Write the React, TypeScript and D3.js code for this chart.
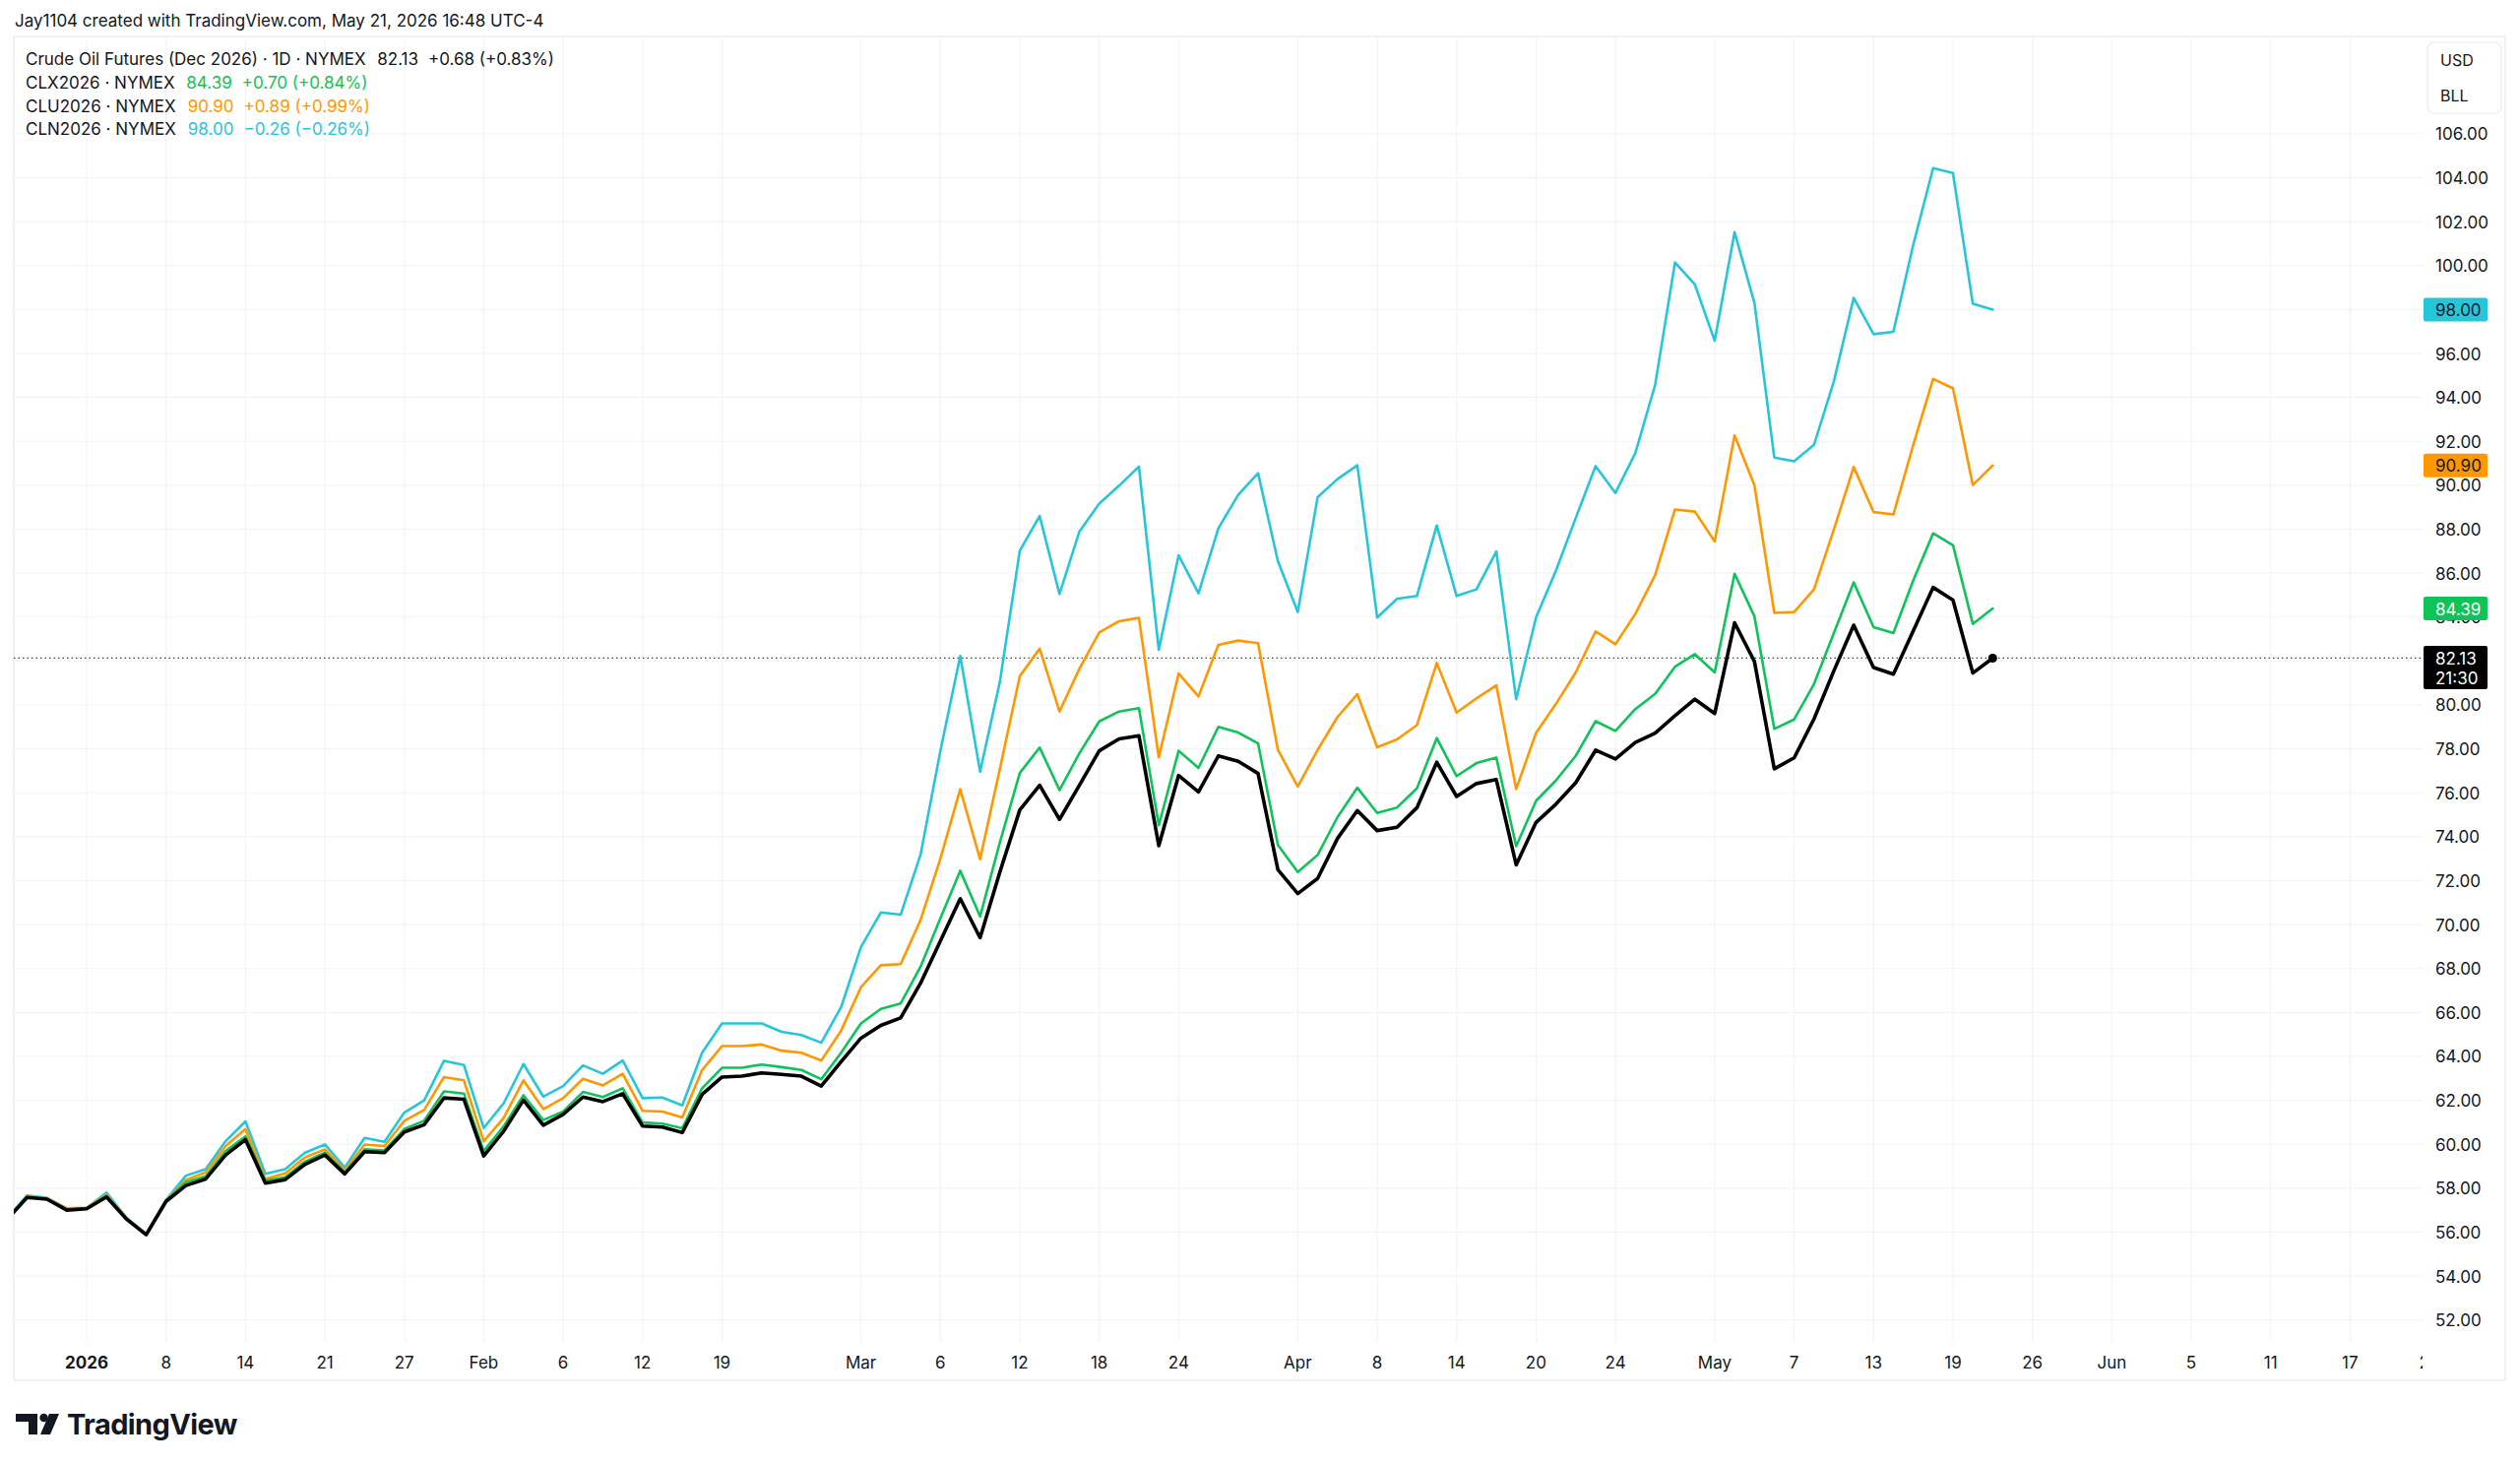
import React from "react";
import * as d3 from "d3";

// ---------- DATA ----------
const dates = [
  "2025-12-26","2025-12-29","2025-12-30","2025-12-31",
  "2026-01-02","2026-01-05","2026-01-06","2026-01-07","2026-01-08","2026-01-09","2026-01-12","2026-01-13","2026-01-14","2026-01-15","2026-01-16","2026-01-20","2026-01-21","2026-01-22","2026-01-23","2026-01-26","2026-01-27","2026-01-28","2026-01-29","2026-01-30",
  "2026-02-02","2026-02-03","2026-02-04","2026-02-05","2026-02-06","2026-02-09","2026-02-10","2026-02-11","2026-02-12","2026-02-13","2026-02-17","2026-02-18","2026-02-19","2026-02-20","2026-02-23","2026-02-24","2026-02-25","2026-02-26","2026-02-27",
  "2026-03-02","2026-03-03","2026-03-04","2026-03-05","2026-03-06","2026-03-09","2026-03-10","2026-03-11","2026-03-12","2026-03-13","2026-03-16","2026-03-17","2026-03-18","2026-03-19","2026-03-20","2026-03-23","2026-03-24","2026-03-25","2026-03-26","2026-03-27","2026-03-30","2026-03-31",
  "2026-04-01","2026-04-02","2026-04-06","2026-04-07","2026-04-08","2026-04-09","2026-04-10","2026-04-13","2026-04-14","2026-04-15","2026-04-16","2026-04-17","2026-04-20","2026-04-21","2026-04-22","2026-04-23","2026-04-24","2026-04-27","2026-04-28","2026-04-29","2026-04-30",
  "2026-05-01","2026-05-04","2026-05-05","2026-05-06","2026-05-07","2026-05-08","2026-05-11","2026-05-12","2026-05-13","2026-05-14","2026-05-15","2026-05-18","2026-05-19","2026-05-20","2026-05-21",
];

// future (empty) trading days on the time scale
const futureDates = [
  "2026-05-22","2026-05-26","2026-05-27","2026-05-28","2026-05-29",
  "2026-06-01","2026-06-02","2026-06-03","2026-06-04","2026-06-05",
  "2026-06-08","2026-06-09","2026-06-10","2026-06-11","2026-06-12",
  "2026-06-15","2026-06-16","2026-06-17","2026-06-18","2026-06-19",
  "2026-06-22","2026-06-23","2026-06-24",
];

// Crude Oil Futures (Dec 2026) - main series
const clz2026 = [
  56.58,57.58,57.50,57.00,
  57.06,57.60,56.60,55.88,57.40,58.12,58.42,59.51,60.21,58.23,58.39,59.09,59.51,58.65,59.66,59.62,60.56,60.89,62.11,62.05,
  59.47,60.59,62.01,60.87,61.36,62.15,61.94,62.30,60.83,60.78,60.53,62.27,63.06,63.10,63.25,63.18,63.10,62.65,63.76,
  64.83,65.41,65.75,67.33,69.25,71.18,69.40,72.40,75.22,76.34,74.79,76.34,77.91,78.45,78.60,73.59,76.79,76.04,77.68,77.43,76.88,72.50,
  71.41,72.10,73.92,75.19,74.28,74.43,75.32,77.39,75.83,76.42,76.60,72.72,74.65,75.48,76.46,77.94,77.54,78.29,78.72,79.51,80.26,
  79.61,83.74,81.98,77.09,77.59,79.36,81.55,83.63,81.70,81.40,83.37,85.35,84.77,81.45,82.13,
];

// CLX2026 (Nov 2026)
const clx2026 = [
  56.60,57.60,57.52,57.03,
  57.08,57.65,56.62,55.90,57.42,58.27,58.54,59.69,60.36,58.35,58.50,59.21,59.62,58.72,59.77,59.72,60.69,61.07,62.41,62.31,
  59.69,60.81,62.23,61.10,61.49,62.38,62.15,62.55,60.99,60.94,60.73,62.55,63.48,63.48,63.63,63.51,63.38,62.96,64.17,
  65.50,66.16,66.41,68.08,70.28,72.45,70.37,73.75,76.90,78.06,76.12,77.80,79.25,79.70,79.85,74.52,77.91,77.13,79.00,78.74,78.25,73.62,
  72.39,73.17,74.89,76.23,75.08,75.33,76.20,78.49,76.76,77.35,77.60,73.57,75.63,76.56,77.68,79.26,78.82,79.81,80.50,81.74,82.31,
  81.48,85.97,84.03,78.91,79.34,80.95,83.27,85.58,83.54,83.27,85.67,87.81,87.27,83.69,84.39,
];

// CLU2026 (Sep 2026)
const clu2026 = [
  56.62,57.62,57.54,57.08,
  57.10,57.70,56.64,55.92,57.44,58.38,58.72,59.92,60.69,58.42,58.68,59.40,59.77,58.82,59.99,59.92,61.07,61.56,63.06,62.91,
  60.14,61.19,62.91,61.60,62.10,62.98,62.68,63.21,61.52,61.49,61.22,63.38,64.47,64.47,64.54,64.26,64.17,63.81,65.17,
  67.15,68.15,68.20,70.20,73.00,76.16,72.98,77.10,81.31,82.56,79.70,81.64,83.30,83.81,83.96,77.61,81.43,80.39,82.73,82.93,82.81,77.95,
  76.28,77.95,79.45,80.49,78.07,78.43,79.08,81.91,79.65,80.30,80.89,76.17,78.72,80.04,81.48,83.35,82.76,84.14,85.91,88.90,88.80,
  87.44,92.27,90.00,84.19,84.23,85.26,87.98,90.83,88.78,88.67,91.84,94.84,94.41,90.01,90.90,
];

// CLN2026 (Jul 2026)
const cln2026 = [
  56.65,57.67,57.56,57.08,
  57.10,57.80,56.66,55.92,57.46,58.57,58.87,60.14,61.04,58.65,58.87,59.62,59.99,58.94,60.29,60.11,61.44,62.00,63.80,63.61,
  60.74,61.86,63.65,62.17,62.65,63.59,63.21,63.81,62.10,62.13,61.77,64.17,65.50,65.50,65.50,65.12,64.97,64.62,66.24,
  68.98,70.55,70.45,73.18,77.90,82.23,76.96,81.07,87.02,88.60,85.05,87.89,89.16,89.98,90.85,82.51,86.81,85.08,88.04,89.56,90.55,86.54,
  84.23,89.46,90.28,90.91,83.98,84.83,84.96,88.17,84.96,85.26,86.99,80.26,83.98,86.11,88.51,90.87,89.65,91.46,94.57,100.14,99.14,
  96.58,101.52,98.30,91.26,91.09,91.84,94.73,98.53,96.88,96.99,100.95,104.44,104.21,98.26,98.00,
];

const priceTicks = [52,54,56,58,60,62,64,66,68,70,72,74,76,78,80,82,84,86,88,90,92,94,96,98,100,102,104,106];

const timeTickDates = [
  "2026-01-02","2026-01-08","2026-01-14","2026-01-21","2026-01-27","2026-02-02","2026-02-06","2026-02-12","2026-02-19",
  "2026-03-02","2026-03-06","2026-03-12","2026-03-18","2026-03-24","2026-04-01","2026-04-08","2026-04-14","2026-04-20","2026-04-24",
  "2026-05-01","2026-05-07","2026-05-13","2026-05-19","2026-05-26","2026-06-01","2026-06-05","2026-06-11","2026-06-17","2026-06-23",
];
const timeTickLabels = [
  "2026","8","14","21","27","Feb","6","12","19",
  "Mar","6","12","18","24","Apr","8","14","20","24",
  "May","7","13","19","26","Jun","5","11","17","23",
];

const seriesNames = ["Crude Oil Futures (Dec 2026) · 1D · NYMEX","CLX2026 · NYMEX","CLU2026 · NYMEX","CLN2026 · NYMEX"];
const seriesChanges = ["+0.68 (+0.83%)","+0.70 (+0.84%)","+0.89 (+0.99%)","\u22120.26 (\u22120.26%)"];
const seriesColors = ["#000000","#0DC35A","#FF9800","#26C6DA"];

// ---------- LAYOUT ----------
const W = 2560, H = 1488;
const frameL = 14, frameT = 37, frameR = 2545, frameB = 1402;
const plotR = 2461, plotB = 1363;
const FONT = "Inter, 'Noto Sans', Roboto, sans-serif";
const TEXT = "#131722";

export default function App() {
  const allDays = dates.concat(futureDates);
  const x = d3.scaleLinear().domain([4, 100]).range([88, 88 + 96 * 20.17]);
  const y = d3.scaleLinear().domain([52, 106]).range([1340.7, 135.9]);

  const line = d3.line<number>().x((_, i) => x(i)).y((d) => y(d));
  const series = [clz2026, clx2026, clu2026, cln2026];
  const drawOrder = [3, 2, 1, 0];
  const last = (a: number[]) => a[a.length - 1];

  const ticks = timeTickDates.map((d, k) => ({ idx: allDays.indexOf(d), label: timeTickLabels[k] }));

  const badge = (si: number, textColor: string) => {
    const v = last(series[si]);
    const cy = y(v);
    return (
      <g key={"b" + si}>
        <rect x={2462} y={cy - 12} width={65} height={24} rx={2} fill={seriesColors[si]} />
        <text x={2474} y={cy + 0.5} fontSize={17} fill={textColor} dominantBaseline="central">{v.toFixed(2)}</text>
      </g>
    );
  };

  const lastMain = last(clz2026);
  const legendY = [60, 84, 108, 131];

  return (
    <svg width={W} height={H} style={{ position: "absolute", left: 0, top: 0, background: "#fff" }} fontFamily={FONT}>
      <defs>
        <clipPath id="plotClip"><rect x={frameL} y={frameT} width={plotR - frameL} height={plotB - frameT} /></clipPath>
        <clipPath id="timeClip"><rect x={frameL} y={plotB} width={plotR - frameL} height={frameB - plotB} /></clipPath>
      </defs>
      <rect x={0} y={0} width={W} height={H} fill="#fff" />

      {/* header */}
      <text x={15} y={21} fontSize={17} fill={TEXT} dominantBaseline="central">
        Jay1104 created with TradingView.com, May 21, 2026 16:48 UTC-4
      </text>

      {/* frame */}
      <rect x={frameL} y={frameT} width={frameR - frameL} height={frameB - frameT} fill="none" stroke="#EDEDED" strokeWidth={1.5} />

      {/* grid */}
      <g stroke="#F1F2F4" strokeWidth={1}>
        {priceTicks.map((p) => (
          <line key={"h" + p} x1={frameL} x2={plotR} y1={y(p)} y2={y(p)} />
        ))}
        {ticks.map((t) => (
          <line key={"v" + t.idx} x1={x(t.idx)} x2={x(t.idx)} y1={frameT} y2={plotB} clipPath="url(#plotClip)" />
        ))}
      </g>

      {/* legend */}
      {seriesNames.map((n, i) => {
        const s = series[i];
        const v = last(s).toFixed(2);
        const col = i === 0 ? TEXT : seriesColors[i];
        return (
          <text key={"lg" + i} x={26} y={legendY[i]} fontSize={17} dominantBaseline="central" fill={TEXT}>
            <tspan>{n}</tspan>
            <tspan dx={12} fill={col}>{v}</tspan>
            <tspan dx={10} fill={col}>{seriesChanges[i]}</tspan>
          </text>
        );
      })}

      {/* last price dotted line */}
      <line x1={frameL} x2={plotR} y1={y(lastMain)} y2={y(lastMain)} stroke="#444" strokeWidth={1.2} strokeDasharray="1.5 3" />

      {/* series */}
      <g clipPath="url(#plotClip)" fill="none" strokeLinejoin="round" strokeLinecap="round">
        {drawOrder.map((si) => (
          <path key={"s" + si} d={line(series[si]) || ""} stroke={seriesColors[si]} strokeWidth={si === 0 ? 3.6 : 2.6} />
        ))}
        <circle cx={x(clz2026.length - 1)} cy={y(lastMain)} r={4.5} fill="#000" />
      </g>

      {/* time axis */}
      <g clipPath="url(#timeClip)">
        {ticks.map((t, k) => (
          <text key={"t" + k} x={x(t.idx)} y={1384} fontSize={17} fill={TEXT} textAnchor="middle" dominantBaseline="central" fontWeight={k === 0 ? 700 : 400}>
            {t.label}
          </text>
        ))}
      </g>

      {/* price axis */}
      <rect x={2466} y={43} width={75} height={72} rx={7} fill="#fff" stroke="#EBEBEB" strokeWidth={1.2} />
      <text x={2479} y={61} fontSize={16} fill={TEXT} dominantBaseline="central">USD</text>
      <text x={2479} y={97} fontSize={16} fill={TEXT} dominantBaseline="central">BLL</text>
      {priceTicks.map((p) => (
        <text key={"p" + p} x={2474} y={y(p) + 0.5} fontSize={17} fill={TEXT} dominantBaseline="central">{p.toFixed(2)}</text>
      ))}
      {badge(3, "#131722")}
      {badge(2, "#131722")}
      {badge(1, "#ffffff")}
      <g>
        <rect x={2462} y={y(lastMain) - 12.5} width={65} height={44} rx={2} fill="#000" />
        <text x={2474} y={y(lastMain) + 0.5} fontSize={17} fill="#fff" dominantBaseline="central">{lastMain.toFixed(2)}</text>
        <text x={2474} y={y(lastMain) + 21} fontSize={17} fill="#fff" dominantBaseline="central">21:30</text>
      </g>

      {/* logo */}
      <g fill="#131722">
        <path d="M16 1436 H38 V1457 H29 V1444 H16 Z" />
        <circle cx={44.5} cy={1440} r={4.2} />
        <path d="M50 1436 H60 L51 1457 H41 Z" />
        <text x={68} y={1457} fontSize={29} fontWeight={700} letterSpacing={-0.6} fill="#131722">TradingView</text>
      </g>
    </svg>
  );
}
